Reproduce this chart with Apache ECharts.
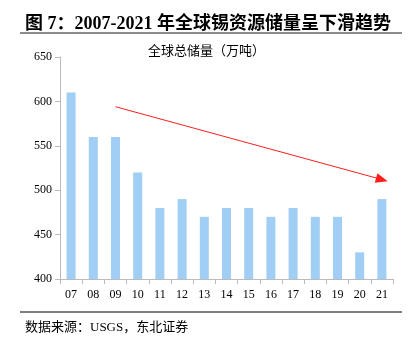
<!DOCTYPE html>
<html><head><meta charset="utf-8">
<script src="https://cdn.jsdelivr.net/npm/echarts@6/dist/echarts.min.js"></script>
<style>html,body{margin:0;padding:0;background:#fff}#c{width:413px;height:338px}</style>
</head><body><div id="c"></div>
<script>
const categories = ['07','08','09','10','11','12','13','14','15','16','17','18','19','20','21'];
const reserves = [610,560,560,520,480,490,470,480,480,470,480,470,470,430,490];
const yTicks = [400,450,500,550,600,650];
const trendStart = [2, 594];
const trendEnd = [13.75, 512];
const titleText = '图 7：2007-2021 年全球锡资源储量呈下滑趋势';
const subTitle = '全球总储量（万吨）';
const sourceText = '数据来源：USGS，东北证券';

const serif = '"Liberation Serif","Noto Sans CJK SC",serif';
const chart = echarts.init(document.getElementById('c'), null, {renderer:'canvas'});
chart.setOption({
  animation:false,
  grid:{left:60,right:20,top:57,bottom:59},
  title:[
    {text:titleText,left:20,top:10,textStyle:{fontFamily:serif,fontSize:18,fontWeight:'bold',color:'#000'}},
    {text:subTitle,left:'center',top:40,textStyle:{fontFamily:serif,fontSize:13,fontWeight:'normal',color:'#000'}},
    {text:sourceText,left:20,top:316,textStyle:{fontFamily:serif,fontSize:13,fontWeight:'normal',color:'#000'}}
  ],
  graphic:[
    {type:'line',shape:{x1:20,y1:33,x2:402,y2:33},style:{stroke:'#666',lineWidth:1.5}},
    {type:'line',shape:{x1:20,y1:312,x2:402,y2:312},style:{stroke:'#000',lineWidth:1}}
  ],
  xAxis:{type:'category',data:categories,
    axisLine:{lineStyle:{color:'#bbb'}},
    axisTick:{show:true,alignWithLabel:false,lineStyle:{color:'#bbb'}},
    axisLabel:{fontFamily:serif,fontSize:12,color:'#000',margin:10}},
  yAxis:{type:'value',min:yTicks[0],max:yTicks[yTicks.length-1],interval:50,
    axisLine:{show:true,lineStyle:{color:'#bbb'}},
    axisTick:{show:true,lineStyle:{color:'#bbb'}},
    splitLine:{show:false},
    axisLabel:{fontFamily:serif,fontSize:12,color:'#000',margin:8}},
  series:[{type:'bar',data:reserves,barWidth:9,itemStyle:{color:'#A0CEF4'},
    markLine:{silent:true,symbol:['none','triangle'],symbolSize:[10,12],
      lineStyle:{color:'#FF1E1E',width:1,type:'solid'},label:{show:false},
      data:[[{coord:trendStart},{coord:trendEnd}]]}}]
});
</script></body></html>
